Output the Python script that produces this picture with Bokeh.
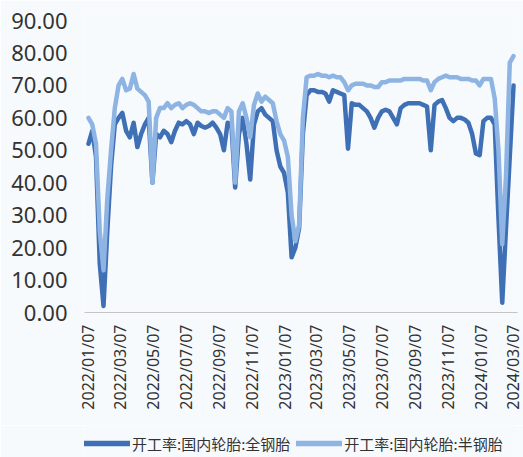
from math import pi
import pandas as pd
from bokeh.plotting import figure
from bokeh.layouts import column
from bokeh.models import (FixedTicker, DatetimeTickFormatter, PrintfTickFormatter,
                          Legend, LegendItem, Range1d)
from bokeh.embed import file_html
from bokeh.resources import INLINE

# ---------------- data ----------------
start_date = "2022-01-07"
last_date = "2024-03-08"

series_names = ["开工率:国内轮胎:全钢胎", "开工率:国内轮胎:半钢胎"]

quan_gang = [52, 56, 48, 15, 2, 25, 45, 58, 60, 61.5,
             56, 54, 58.5, 51, 55, 58, 60, 40, 55, 54,
             56, 55, 52.5, 56, 58.5, 58, 59, 58, 55, 58.5,
             57.5, 57, 57.5, 58.5, 57, 55, 50, 58.5, 58, 38.5,
             55, 60, 52, 41, 58, 62, 63, 61, 60, 59,
             50, 45, 43, 37, 17, 20, 26, 55, 67, 68.5,
             68.5, 68, 68, 67.5, 65, 68.5, 68, 67.5, 67, 50.5,
             64.5, 64, 64, 63, 62, 60, 57, 60, 62, 62.5,
             62, 60, 58, 63, 64, 64.5, 64.5, 64.5, 64.5, 64,
             63.5, 50, 64, 65, 65.5, 63, 60, 59, 60, 60,
             59.5, 58.5, 55, 49, 48.5, 59, 60, 60, 58, 29,
             3, 26, 48, 70]

ban_gang = [60, 58, 52, 25, 13, 35, 50, 63, 70, 72,
            68.5, 69, 73.5, 69, 68, 67, 65, 40, 60, 63,
            63, 64.5, 63, 64, 64.5, 63, 64, 64.5, 64, 63,
            62, 62, 61.5, 62, 62, 61, 60, 63, 62, 40,
            62, 64.5, 60, 54, 64, 67.5, 65, 66.5, 65.5, 64.5,
            59, 55, 53, 48, 30, 22, 27, 60, 72.5, 73,
            73, 73.5, 73, 73, 72.5, 73, 72.5, 72.5, 71, 68.5,
            70, 70.5, 70.5, 70.5, 70, 70, 69.5, 69.5, 71, 71,
            71.5, 71.5, 71.5, 71.5, 72, 72, 72, 72, 72, 71.5,
            71.5, 68.5, 71, 72, 72.5, 73, 72.5, 72.5, 72.5, 72,
            72, 72, 71.5, 71.5, 70, 72, 72, 72, 66, 50,
            21, 42, 77, 79]

x_tick_labels = ["2022/01/07", "2022/03/07", "2022/05/07", "2022/07/07",
                 "2022/09/07", "2022/11/07", "2023/01/07", "2023/03/07",
                 "2023/05/07", "2023/07/07", "2023/09/07", "2023/11/07",
                 "2024/01/07", "2024/03/07"]
y_ticks = [0, 10, 20, 30, 40, 50, 60, 70, 80, 90]

# ---------------- build ----------------
dates = pd.date_range(start_date, periods=len(quan_gang), freq="7D")
tick_ms = [pd.Timestamp(t.replace("/", "-")).value / 1e6 for t in x_tick_labels]

pad = pd.Timedelta(days=7.4)
x_start = (pd.Timestamp(start_date) - pad).to_pydatetime()
x_end = (pd.Timestamp(last_date) + pad).to_pydatetime()

BG = "#f7fafd"
DARK = "#3f6fb5"
LIGHT = "#8db4e2"
TXT = "#333333"
LW = 4.5

p = figure(width=523, height=425, x_axis_type="datetime",
           x_range=Range1d(x_start, x_end), y_range=Range1d(0, 91.85),
           output_backend="svg", toolbar_location=None,
           min_border_left=84, min_border_right=6,
           min_border_top=14, min_border_bottom=113,
           background_fill_color=BG, border_fill_color=BG)
p.outline_line_color = None
p.grid.visible = False

p.line(dates, quan_gang, line_width=LW, color=DARK,
       line_join="round", line_cap="round")
p.line(dates, ban_gang, line_width=LW, color=LIGHT,
       line_join="round", line_cap="round")

xa = p.xaxis[0]
xa.ticker = FixedTicker(ticks=tick_ms)
fmt = "%Y/%m/%d"
xa.formatter = DatetimeTickFormatter(days=fmt, months=fmt, years=fmt,
                                     hours=fmt, hourmin=fmt, minutes=fmt)
xa.major_label_orientation = pi / 2
xa.major_label_text_font = "Noto Sans"
xa.major_label_text_font_size = "16px"
xa.major_label_text_color = TXT
xa.major_label_standoff = 6
xa.major_tick_line_color = None
xa.minor_tick_line_color = None
xa.axis_line_color = "#c4c4c4"
xa.axis_line_width = 1.2

ya = p.yaxis[0]
ya.ticker = FixedTicker(ticks=y_ticks)
ya.formatter = PrintfTickFormatter(format="%.2f")
ya.major_label_text_font = "Noto Sans"
ya.major_label_text_font_size = "22px"
ya.major_label_text_color = TXT
ya.major_label_standoff = 11
ya.axis_line_color = None
ya.major_tick_line_color = None
ya.minor_tick_line_color = None

# ---------------- legend strip ----------------
lg = figure(width=523, height=32, x_range=Range1d(0, 1), y_range=Range1d(0, 1),
            output_backend="svg", toolbar_location=None,
            x_axis_location=None, y_axis_location=None, min_border=0,
            background_fill_color=BG, border_fill_color=BG)
lg.outline_line_color = None
lg.grid.visible = False
# key renderers (their points lie outside the visible range; only the legend keys show)
k1 = lg.line([0.2, 0.4], [-5, -5], line_width=5.5, color=DARK, line_cap="round")
k2 = lg.line([0.2, 0.4], [-5, -5], line_width=5.5, color=LIGHT, line_cap="round")

legend = Legend(items=[LegendItem(label=series_names[0], renderers=[k1]),
                       LegendItem(label=series_names[1], renderers=[k2])],
                location=(0, 2), orientation="horizontal",
                glyph_width=46, glyph_height=24, label_height=24,
                label_standoff=2, spacing=6, padding=0, margin=0,
                border_line_alpha=0, background_fill_alpha=0,
                label_text_font="Noto Sans CJK SC", label_text_font_size="15px",
                label_text_color=TXT)
lg.add_layout(legend)

open("out.html", "w").write(file_html(column(p, lg, spacing=0), INLINE))
